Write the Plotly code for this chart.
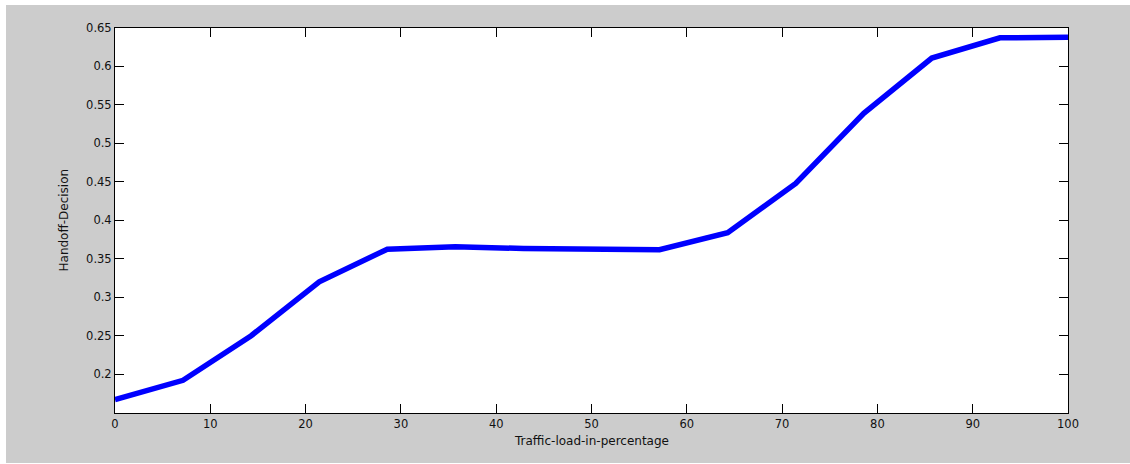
import plotly.graph_objects as go

traffic_load = [0, 7.14, 14.29, 21.43, 28.57, 35.71, 42.86, 50.0, 57.14, 64.29, 71.43, 78.57, 85.71, 92.86, 100]
handoff_decision = [0.167, 0.192, 0.250, 0.320, 0.3625, 0.3655, 0.3634, 0.3622, 0.3618, 0.384, 0.448, 0.539, 0.611, 0.6372, 0.638]

x_ticks = [0, 10, 20, 30, 40, 50, 60, 70, 80, 90, 100]
y_ticks = [0.2, 0.25, 0.3, 0.35, 0.4, 0.45, 0.5, 0.55, 0.6, 0.65]
y_tick_text = ["0.2", "0.25", "0.3", "0.35", "0.4", "0.45", "0.5", "0.55", "0.6", "0.65"]

W, H = 1130, 464
L, R, T, B = 115, 62, 28, 51
pw, ph = W - L - R, H - T - B

FONT = "DejaVu Sans, Arial, sans-serif"

fig = go.Figure()
fig.add_trace(go.Scatter(x=traffic_load, y=handoff_decision, mode="lines",
                         line=dict(color="#0000ff", width=5.5), showlegend=False))

def px_x(p):
    return (p - L) / pw

def px_y(p):
    return (H - B - p) / ph

# white strips around the gray figure area
fig.add_shape(type="rect", xref="paper", yref="paper", x0=px_x(0), x1=px_x(W), y0=px_y(0), y1=px_y(5),
              fillcolor="white", line=dict(width=0), layer="below")
fig.add_shape(type="rect", xref="paper", yref="paper", x0=px_x(0), x1=px_x(6), y0=px_y(H), y1=px_y(0),
              fillcolor="white", line=dict(width=0), layer="below")
fig.add_shape(type="rect", xref="paper", yref="paper", x0=px_x(0), x1=px_x(W), y0=px_y(H), y1=px_y(463),
              fillcolor="white", line=dict(width=0), layer="below")

axis_common = dict(showline=True, linecolor="black", linewidth=1, mirror="ticks",
                   ticks="inside", ticklen=9, tickwidth=1, tickcolor="black",
                   showgrid=False, zeroline=False,
                   tickfont=dict(family=FONT, size=11.5, color="#111111"))

fig.update_xaxes(range=[0, 100], tickvals=x_ticks, **axis_common)
fig.update_yaxes(range=[0.1495, 0.65], tickvals=y_ticks, ticktext=y_tick_text, **axis_common)

fig.add_annotation(text="Traffic-load-in-percentage", xref="paper", yref="paper",
                   x=0.5, y=px_y(441), xanchor="center", yanchor="middle", showarrow=False,
                   font=dict(family=FONT, size=12, color="#111111"))
fig.add_annotation(text="Handoff-Decision", xref="paper", yref="paper",
                   x=px_x(63), y=0.5, xanchor="center", yanchor="middle", textangle=-90, showarrow=False,
                   font=dict(family=FONT, size=12, color="#111111"))

fig.update_layout(width=W, height=H, margin=dict(l=L, r=R, t=T, b=B, pad=0),
                  paper_bgcolor="#cccccc", plot_bgcolor="white")

fig.write_html("out.html", config={"displayModeBar": False},
               post_script="document.body.style.margin='0px';")
